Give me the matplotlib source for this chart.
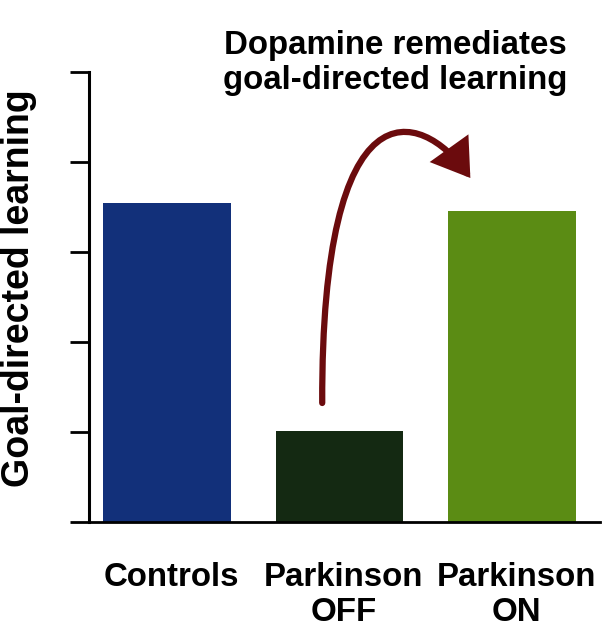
import matplotlib
matplotlib.use("Agg")
import matplotlib.pyplot as plt
import matplotlib.transforms as mtransforms
from matplotlib.patches import FancyArrowPatch
from matplotlib.path import Path

categories = ["Controls", "Parkinson\nOFF", "Parkinson\nON"]
values = [3.54, 1.01, 3.46]
colors = ["#12307a", "#142912", "#5b8c14"]
y_label = "Goal-directed learning"
title = "Dopamine remediates\ngoal-directed learning"
y_ticks = [0, 1, 2, 3, 4, 5]

plt.rcParams['font.family'] = ['Liberation Sans', 'DejaVu Sans']

W, H = 604, 639
fig = plt.figure(figsize=(W / 100, H / 100), dpi=100)
ax = fig.add_axes([89 / W, (H - 522) / H, (600 - 89) / W, 450 / H])

x = list(range(len(categories)))
ax.bar(x, values, width=0.74, color=colors)
ax.set_xlim(-0.453, 2.51)
ax.set_ylim(0, 5)
ax.set_yticks(y_ticks)
ax.set_yticklabels([])
ax.set_xticks(x)
ax.set_xticklabels(categories, fontsize=23.8, fontweight='bold', linespacing=1.15)
ax.tick_params(axis='x', length=0, pad=29)
ax.tick_params(axis='y', length=13.5, width=2.0, direction='out', color='black')
offset = mtransforms.ScaledTranslation(4 / 100, 0, fig.dpi_scale_trans)
for lbl in ax.get_xticklabels():
    lbl.set_transform(lbl.get_transform() + offset)
for s in ['top', 'right']:
    ax.spines[s].set_visible(False)
ax.spines['left'].set_linewidth(2.2)
ax.spines['bottom'].set_linewidth(2.0)
ax.spines['left'].set_bounds(0, 5)

ax.set_ylabel(y_label, fontsize=27, fontweight='bold')
ax.yaxis.set_label_coords(-52 / 511, 0.519)

fig.text(395 / W, 1 - 30 / H, title, ha='center', va='top', fontsize=23.8,
         fontweight='bold', linespacing=1.15)

# curved arrow annotation
def px(xp, yp):
    return ((xp - 89) / 172.3 - 0.453, (522 - yp) / 90)

verts = [px(322, 403), px(321, 80), px(420, 108), px(470, 178)]
path = Path(verts, [Path.MOVETO, Path.CURVE4, Path.CURVE4, Path.CURVE4])
arrow = FancyArrowPatch(path=path, arrowstyle='-|>,head_length=20,head_width=13',
                        mutation_scale=1, lw=4.5, color='#6b0b0d', clip_on=False,
                        joinstyle='miter', capstyle='round')
ax.add_patch(arrow)

fig.savefig("out.png", dpi=100)
